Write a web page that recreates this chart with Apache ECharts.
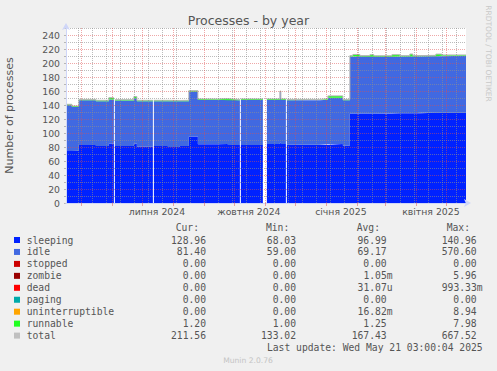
<!DOCTYPE html>
<html><head><meta charset="utf-8">
<script src="https://cdn.jsdelivr.net/npm/echarts@6/dist/echarts.min.js"></script>
<style>html,body{margin:0;padding:0;background:#f0f0f0}#c{width:497px;height:371px}</style>
</head><body><div id="c"></div>
<script>
// ---- data (segment boundaries, step-held values; null = unknown / gap) ----
const dates = ['2024-04-16','2024-04-22','2024-04-29','2024-05-16','2024-05-29','2024-06-02','2024-06-03',
  '2024-06-04','2024-06-23','2024-06-26','2024-07-11','2024-07-12',
  '2024-07-13','2024-07-27','2024-08-08','2024-08-17','2024-08-26','2024-09-15','2024-09-25','2024-10-06','2024-10-07',
  '2024-10-08','2024-10-27','2024-10-30',
  '2024-11-03','2024-11-16','2024-11-17','2024-11-21','2024-11-22',
  '2024-11-23','2024-12-26','2025-01-03','2025-01-18','2025-01-25','2025-01-28','2025-02-04','2025-02-14','2025-02-18',
  '2025-03-08','2025-03-16','2025-03-26','2025-03-29','2025-04-06','2025-04-21','2025-04-27','2025-05-21 03:00:00'];
const sleeping = [75.5,74.5,83.0,81.5,85.0,85.0,null,
  81.5,85.0,80.5,80.5,null,
  81.5,80.0,81.5,95.0,84.0,84.3,83.0,83.0,null,
  83.0,83.0,null,
  84.3,86.0,84.3,84.3,null,
  83.3,83.3,84.3,82.0,128.0,128.0,128.0,128.0,128.0,
  128.3,128.3,128.3,128.3,129.0,129.0,129.0,129.0];
const idle = [64.0,62.5,63.7,63.9,63.0,63.0,null,
  64.8,64.5,64.9,64.9,null,
  63.9,65.2,63.9,64.2,63.3,63.2,63.7,63.7,null,
  64.3,64.3,null,
  63.0,72.7,63.0,63.0,null,
  63.4,64.2,66.0,64.7,81.0,81.2,81.2,81.0,81.0,
  80.7,80.9,81.0,81.0,80.7,80.7,81.3,81.3];
const runnable = [1.5,1.5,1.3,1.3,2.5,2.5,null,
  1.3,2.5,1.3,1.3,null,
  1.3,1.3,1.3,1.3,1.3,1.5,1.3,1.3,null,
  1.3,1.3,null,
  1.3,1.3,1.3,1.3,null,
  1.3,1.5,2.7,1.3,1.5,3.0,1.3,2.8,1.3,
  2.8,1.3,3.5,1.3,1.3,3.0,1.2,1.2];
const total = [141.0,138.5,148.0,146.7,150.5,150.5,null,
  147.6,152.0,146.7,146.7,null,
  146.7,146.5,146.7,160.5,148.6,149.0,148.0,148.0,null,
  148.6,148.6,null,
  148.6,160.0,148.6,148.6,null,
  148.0,149.0,153.0,148.0,210.5,212.2,210.5,211.8,210.3,
  211.8,210.5,212.8,210.6,211.0,212.7,211.5,211.5];

// ---- axis ticks / labels ----
const xStart = '2024-04-16 03:00:00';
const xEnd = '2025-05-21 03:00:00';
const monthStarts = ['2024-05-01','2024-06-01','2024-07-01','2024-08-01','2024-09-01','2024-10-01','2024-11-01',
  '2024-12-01','2025-01-01','2025-02-01','2025-03-01','2025-04-01','2025-05-01'];
const biweekly = ['2024-04-28','2024-05-12','2024-05-26','2024-06-09','2024-06-23','2024-07-07','2024-07-21',
  '2024-08-04','2024-08-18','2024-09-15','2024-09-29','2024-10-13','2024-10-27','2024-11-10',
  '2024-11-24','2024-12-08','2024-12-22','2025-01-05','2025-01-19','2025-02-02','2025-02-16','2025-03-02',
  '2025-03-16','2025-03-30','2025-04-13','2025-04-27','2025-05-11'];
const xLabelDates = ['2024-07-16','2024-10-16','2025-01-16','2025-04-16'];
const xLabelTexts = ['липня 2024','жовтня 2024','січня 2025','квітня 2025'];
const yTicks = [0,20,40,60,80,100,120,140,160,180,200,220,240];

// ---- legend table ----
const legendNames = ['sleeping','idle','stopped','zombie','dead','paging','uninterruptible','runnable','total'];
const curVals = ['128.96','81.40','0.00','0.00','0.00','0.00','0.00','1.20','211.56'];
const minVals = ['68.03','59.00','0.00','0.00','0.00','0.00','0.00','1.00','133.02'];
const avgVals = ['96.99','69.17','0.00','1.05m','31.07u','0.00','16.82m','1.25','167.43'];
const maxVals = ['140.96','570.60','0.00','5.96','993.33m','0.00','8.94','7.98','667.52'];
const headers = ['Cur:','Min:','Avg:','Max:'];
const lastUpdate = 'Last update: Wed May 21 03:00:04 2025';
const version = 'Munin 2.0.76';
const watermark = 'RRDTOOL / TOBI OETIKER';

// ---- styles ----
const legendColors = ['#0022ff','#4169e1','#cc0000','#990000','#ff0000','#00aaaa','#ffa500','#22ff22','#c0c0c0'];
const FONT = '"DejaVu Sans", sans-serif';
const MONO = '"DejaVu Sans Mono", monospace';
const MAJOR = 'rgba(222,79,79,0.5)';
const MINOR = 'rgba(143,143,143,0.6)';
const AXIS = '#cfd6f8';
const TXT = '#555555';

function toTs(s) {
  const m = s.match(/^(\d+)-(\d+)-(\d+)(?: (\d+):(\d+):(\d+))?$/);
  return new Date(+m[1], +m[2] - 1, +m[3], +(m[4] || 0), +(m[5] || 0), +(m[6] || 0)).getTime();
}
const labelTs = xLabelDates.map(toTs);
const majorTs = monthStarts.map(toTs);

function pairs(arr) { return dates.map((d, i) => [toTs(d), arr[i] === null ? '-' : arr[i]]); }

function areaSeries(name, arr, color) {
  return { name, type: 'line', xAxisIndex: 1, stack: 'p', step: 'end', data: pairs(arr), symbol: 'none', showSymbol: false,
    connectNulls: false, lineStyle: { width: 0 }, itemStyle: { color }, areaStyle: { color, opacity: 1 }, z: 2, silent: true };
}

// legend graphics
const graphics = [];
const rowY0 = 240, rowH = 11.95, cw = 5.85;
const colEnds = [206, 296, 386.7, 476.7];
const headerEnds = [199, 289.3, 380, 470];
headers.forEach((h, i) => graphics.push({ type: 'text', x: headerEnds[i], y: 227.7,
  style: { text: h, font: '9.7px ' + MONO, fill: TXT, align: 'right', verticalAlign: 'middle' } }));
legendNames.forEach((n, r) => {
  const y = rowY0 + r * rowH;
  graphics.push({ type: 'rect', shape: { x: 14, y: y - 3, width: 6, height: 6 }, style: { fill: legendColors[r] } });
  graphics.push({ type: 'text', x: 26.7, y, style: { text: n, font: '9.7px ' + MONO, fill: TXT, align: 'left', verticalAlign: 'middle' } });
  [curVals, minVals, avgVals, maxVals].forEach((col, c) => {
    const s = col[r];
    const hasSuffix = /[a-z]$/i.test(s);
    graphics.push({ type: 'text', x: colEnds[c] + (hasSuffix ? cw : 0), y,
      style: { text: s, font: '9.7px ' + MONO, fill: TXT, align: 'right', verticalAlign: 'middle' } });
  });
});
graphics.push({ type: 'text', x: 482.7, y: 347.7, style: { text: lastUpdate, font: '9.7px ' + MONO, fill: TXT, align: 'right', verticalAlign: 'middle' } });
graphics.push({ type: 'text', x: 248, y: 360, style: { text: version, font: '7.6px ' + FONT, fill: '#c4c4c4', align: 'center', verticalAlign: 'middle' } });
graphics.push({ type: 'text', x: 488.5, y: 53.5, rotation: -Math.PI / 2,
  style: { text: watermark, font: '7.5px ' + FONT, fill: '#c8c8c8', align: 'center', verticalAlign: 'middle' } });

const xMin = toTs(xStart), xMax = toTs(xEnd);

const chart = echarts.init(document.getElementById('c'), null, { renderer: 'svg', width: 497, height: 371 });
chart.setOption({
  backgroundColor: '#f0f0f0',
  animation: false,
  title: { text: 'Processes - by year', left: 'center', top: 9,
    textStyle: { fontFamily: FONT, fontSize: 12.5, fontWeight: 'normal', color: TXT } },
  grid: { left: 66, top: 28, width: 400, height: 175, show: true, backgroundColor: '#ffffff', borderWidth: 0,
    containLabel: false, outerBoundsMode: 'none' },
  xAxis: [
    { type: 'value', min: xMin, max: xMax, position: 'bottom', z: 4,
      axisLine: { show: true, onZero: false, lineStyle: { color: AXIS, width: 1 }, symbol: ['none', 'arrow'], symbolSize: [6, 7], symbolOffset: [0, 5] },
      axisTick: { show: true, customValues: majorTs, length: 3, lineStyle: { color: MAJOR } },
      axisLabel: { show: true, customValues: labelTs,
        formatter: v => { const i = labelTs.indexOf(v); return i >= 0 ? xLabelTexts[i] : ''; },
        fontFamily: FONT, fontSize: 9.3, color: TXT, margin: 4 },
      splitLine: { show: true, lineStyle: { color: MAJOR, type: [1, 1], width: 1 } } },
    { type: 'time', min: xMin, max: xMax, position: 'bottom', show: false }
  ],
  yAxis: { type: 'value', min: 0, max: 250, interval: 10, z: 3,
    name: 'Number of processes', nameLocation: 'middle', nameGap: 51, nameRotate: 90,
    nameTextStyle: { fontFamily: FONT, fontSize: 11, color: TXT },
    axisLine: { show: true, lineStyle: { color: AXIS, width: 1 }, symbol: ['none', 'arrow'], symbolSize: [6, 7], symbolOffset: [0, 5] },
    axisTick: { show: true, length: 2, lineStyle: { color: MINOR } },
    axisLabel: { formatter: v => yTicks.indexOf(v) >= 0 ? String(v) : '', fontFamily: FONT, fontSize: 9.3, color: TXT, margin: 6 },
    splitLine: { show: true, lineStyle: { color: [MAJOR, MINOR], type: [1, 1], width: 1 } } },
  series: [
    areaSeries('sleeping', sleeping, legendColors[0]),
    areaSeries('idle', idle, legendColors[1]),
    areaSeries('runnable', runnable, legendColors[7]),
    { name: 'total', type: 'line', xAxisIndex: 1, step: 'end', data: pairs(total), symbol: 'none', showSymbol: false, connectNulls: false,
      lineStyle: { width: 1, color: '#b4b4b4' }, itemStyle: { color: '#b4b4b4' }, z: 2, silent: true,
      markLine: { silent: true, symbol: 'none', animation: false, label: { show: false },
        lineStyle: { color: MINOR, type: [1, 1], width: 1 },
        data: biweekly.map(d => ({ xAxis: toTs(d) })) } }
  ],
  graphic: graphics
});
</script>
</body></html>
